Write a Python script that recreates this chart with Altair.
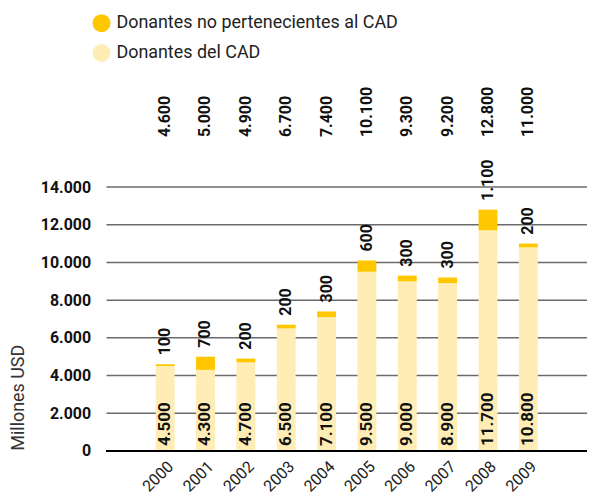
import altair as alt
import pandas as pd

years = ["2000", "2001", "2002", "2003", "2004", "2005", "2006", "2007", "2008", "2009"]
cad = [4500, 4300, 4700, 6500, 7100, 9500, 9000, 8900, 11700, 10800]
no_cad = [100, 700, 200, 200, 300, 600, 300, 300, 1100, 200]
totals = [4600, 5000, 4900, 6700, 7400, 10100, 9300, 9200, 12800, 11000]
y_ticks = [0, 2000, 4000, 6000, 8000, 10000, 12000, 14000]

S_NO = "Donantes no pertenecientes al CAD"
S_CAD = "Donantes del CAD"
DARK = "#FFC700"
LIGHT = "#FFEDB5"
FONT = "Roboto"

long_rows = []
for yr, c, n in zip(years, cad, no_cad):
    long_rows.append({"year": yr, "serie": S_CAD, "valor": c, "orden": 0})
    long_rows.append({"year": yr, "serie": S_NO, "valor": n, "orden": 1})
long_df = pd.DataFrame(long_rows)
wide_df = pd.DataFrame({"year": years, "cad": cad, "no_cad": no_cad, "total": totals})
grid_df = pd.DataFrame({"tick": y_ticks})


def fmt(f):
    return f"replace(format(datum.{f}, ','), ',', '.')"


x_scale = alt.Scale(range=[49.5, 433.5], paddingInner=0.532, paddingOuter=0)
x_enc = alt.X(
    "year:N",
    sort=years,
    scale=x_scale,
    axis=alt.Axis(
        title=None, labelAngle=-45, labelFontSize=16, labelFont=FONT,
        labelColor="#222", labelPadding=7, ticks=False,
        domain=False, grid=False,
    ),
)

y_scale = alt.Scale(domain=[0, 20000], nice=False)

grid = alt.Chart(grid_df).mark_rule(color="#6b6b6b", strokeWidth=1.5).encode(
    y=alt.Y("tick:Q", scale=y_scale)
)

bars = alt.Chart(long_df).mark_bar().encode(
    x=x_enc,
    y=alt.Y(
        "valor:Q", stack="zero", scale=y_scale,
        axis=alt.Axis(
            values=y_ticks, title="Millones USD", titleFont=FONT,
            titleFontSize=18, titleFontWeight="normal", titleColor="#333",
            titleX=-88, titleY=398 - 73, titleAngle=-90, titleAlign="center",
            titleBaseline="middle",
            labelExpr="replace(format(datum.value, ','), ',', '.')",
            labelFont=FONT, labelFontSize=16, labelFontWeight="bold",
            labelColor="#111", labelPadding=16, ticks=False, domain=False,
            grid=False,
        ),
    ),
    color=alt.Color(
        "serie:N",
        scale=alt.Scale(domain=[S_NO, S_CAD], range=[DARK, LIGHT]),
        legend=alt.Legend(
            title=None, orient="none", legendX=-14, legendY=-60,
            symbolType="circle", symbolSize=324, symbolStrokeWidth=0,
            labelFont=FONT, labelFontSize=18, labelColor="#222",
            labelOffset=6, rowPadding=12, padding=0, labelLimit=0,
        ),
    ),
    order=alt.Order("orden:Q", sort="ascending"),
)

zero_line = alt.Chart(wide_df).mark_rule(color="#000", strokeWidth=2).encode(
    y=alt.datum(0)
)

base = alt.Chart(wide_df).transform_calculate(
    t_cad=fmt("cad"), t_no=fmt("no_cad"), t_tot=fmt("total")
)

txt_style = dict(angle=270, align="left", baseline="middle", font=FONT,
                 fontWeight="bold", color="#111")

x_txt = alt.X("year:N", sort=years)

cad_txt = base.mark_text(fontSize=17, dx=5, **txt_style).encode(
    x=x_txt, y=alt.datum(0), text="t_cad:N"
)
no_txt = base.mark_text(fontSize=16, dx=9, **txt_style).encode(
    x=x_txt, y=alt.Y("total:Q"), text="t_no:N"
)
tot_txt = base.mark_text(fontSize=16, dx=0, **txt_style).encode(
    x=x_txt, y=alt.datum(16650), text="t_tot:N"
)

chart = alt.layer(grid, bars, zero_line, cad_txt, no_txt, tot_txt).properties(
    width=483, height=379,
    autosize=alt.AutoSizeParams(type="none"),
    padding={"left": 99, "top": 65, "right": 0, "bottom": 41},
).configure_view(stroke=None)

chart.save("out.html", embed_options={"renderer": "svg", "actions": False})
